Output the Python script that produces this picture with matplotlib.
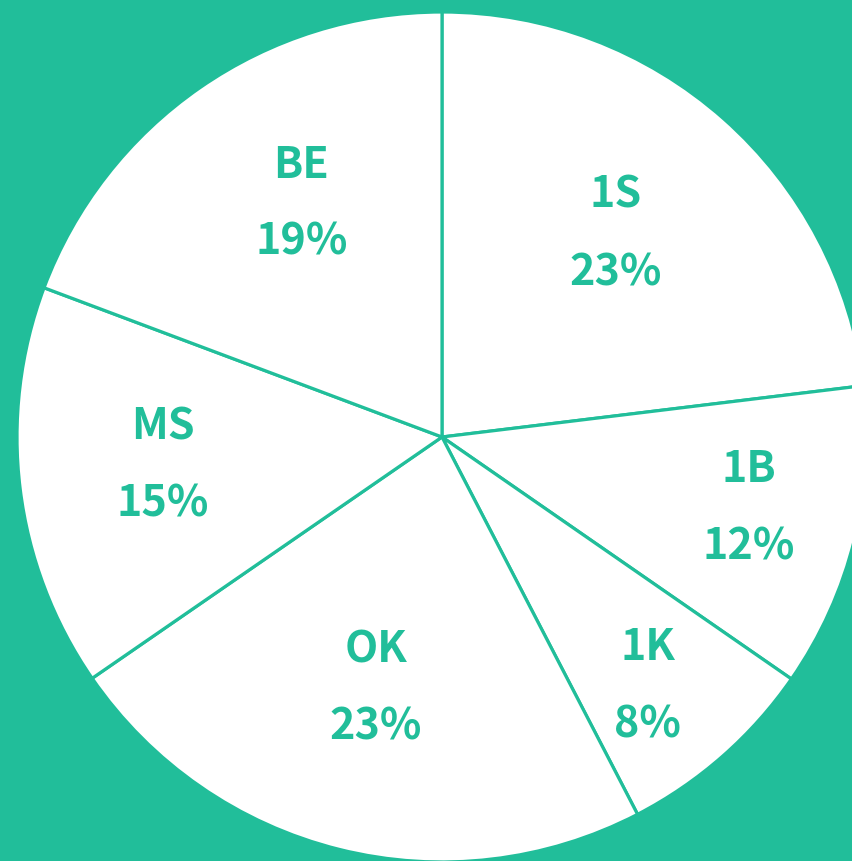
import matplotlib
matplotlib.use("Agg")
import matplotlib.pyplot as plt
import numpy as np

labels = ["1S", "1B", "1K", "OK", "MS", "BE"]
values = [23.07, 11.57, 7.75, 23.0, 15.32, 19.29]

# label placement (layout, not data): fraction of radius and clockwise nudge in degrees
label_r = [0.63, 0.74, 0.76, 0.61, 0.66, 0.642]
label_nudge = [-1.0, -0.9, 1.8, 0.8, 1.3, 3.7]

teal = "#21BE9A"
plt.rcParams['font.family'] = ['Noto Sans CJK JP', 'DejaVu Sans']

fig = plt.figure(figsize=(8.52, 8.61), dpi=100)
fig.patch.set_facecolor(teal)
ax = fig.add_axes([0, 0, 1, 1])
ax.set_facecolor(teal)

cx, cy, R = 442, 424, 425
wedges, _ = ax.pie(values, startangle=90, counterclock=False,
                   center=(cx, cy), radius=R,
                   colors=["white"] * len(values),
                   wedgeprops=dict(edgecolor=teal, linewidth=2.3))
total = sum(values)
for w, l, v, lr, nd in zip(wedges, labels, values, label_r, label_nudge):
    ang = np.deg2rad((w.theta1 + w.theta2) / 2 - nd)
    x = cx + lr * R * np.cos(ang)
    y = cy + lr * R * np.sin(ang)
    ax.text(x, y, f"{l}\n{round(v / total * 100)}%", color=teal, fontsize=31,
            fontweight='bold', linespacing=1.95, ha='center', va='center')

ax.set_xlim(0, 852)
ax.set_ylim(0, 861)
ax.set_aspect('equal')
ax.axis('off')
fig.savefig("out.png", dpi=100, facecolor=teal)
